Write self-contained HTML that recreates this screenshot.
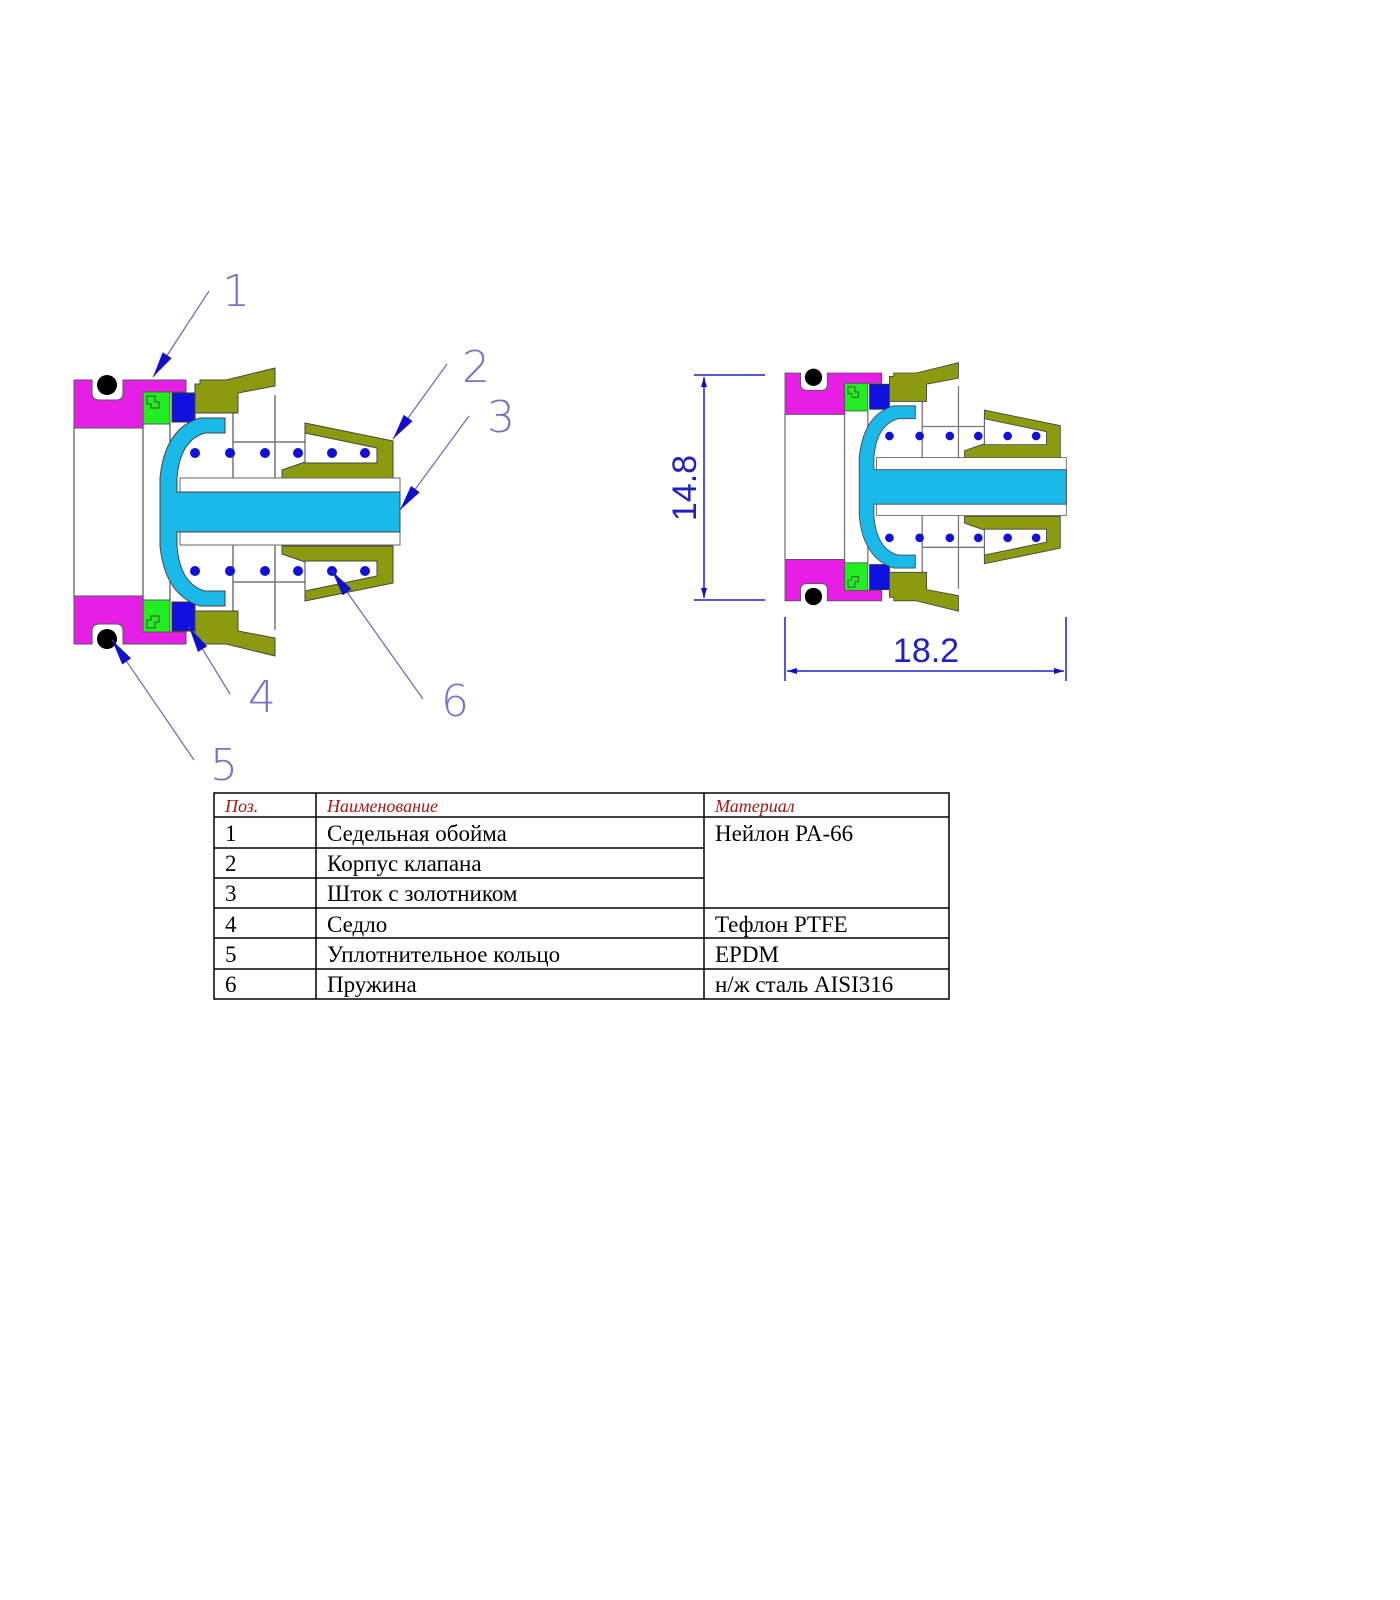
<!DOCTYPE html>
<html><head><meta charset="utf-8"><style>
html,body{margin:0;padding:0;background:#fff;width:1400px;height:1600px;overflow:hidden}
</style></head><body>
<svg width="1400" height="1600" viewBox="0 0 1400 1600" xmlns="http://www.w3.org/2000/svg">
<defs>
<g id="valve">
  <g stroke="#777" stroke-width="1.5" fill="none">
    <line x1="74" y1="428" x2="74" y2="596"/>
    <line x1="143" y1="424" x2="143" y2="600"/>
    <line x1="170" y1="424" x2="170" y2="600"/>
    <line x1="233" y1="410" x2="233" y2="614"/>
    <line x1="275" y1="395" x2="275" y2="630"/>
    <line x1="233" y1="442" x2="305" y2="442"/>
    <line x1="233" y1="582" x2="305" y2="582"/>
  </g>
  <g id="half">
    <path d="M74 380 H92 V393 Q92 400 100 400 H116 Q123 400 123 393 V380 H186 V392 H143 V428 H74 Z" fill="#e61ee6" stroke="#555" stroke-width="1"/>
    <circle cx="107" cy="385" r="10" fill="#000"/>
    <path d="M143 392 H170 V424 H143 Z" fill="#22ee22" stroke="#555" stroke-width="1"/>
    <path d="M147 396 h8 v6 h4 v6 h-8 v-4 h-4 Z" fill="none" stroke="#444" stroke-width="1"/>
    <rect x="172" y="393" width="23" height="29" fill="#1010e0" stroke="#333" stroke-width="1"/>
    <path d="M195 384 H200 V380 H226 L275 368 V386 L238 393 V413 H195 Z" fill="#8c9a10" stroke="#444" stroke-width="1"/>
    <path d="M305 423 L393 441 V478 H282 V470 L305 462 Z" fill="#8c9a10" stroke="#444" stroke-width="1"/>
    <path d="M305 433 L377 448 V463 H305 Z" fill="#fff" stroke="#444" stroke-width="1"/>
    <g fill="#1010d8">
      <circle cx="195" cy="453" r="5"/><circle cx="230" cy="453" r="5"/><circle cx="265" cy="453" r="5"/>
      <circle cx="298" cy="453" r="5"/><circle cx="332" cy="453" r="5"/><circle cx="365" cy="453" r="5"/>
    </g>
  </g>
  <use href="#half" transform="translate(0,1024) scale(1,-1)"/>
  <rect x="180" y="478" width="220" height="67" fill="#fff" stroke="#666" stroke-width="1"/>
  <path d="M225 418 V433 H205 Q180 440 177 478 V492 H400 V532 H177 V546 Q180 584 205 591 H225 V606 H200 Q165 595 160 546 V478 Q165 428 200 418 Z" fill="#19b9ea" stroke="#444" stroke-width="1"/>
</g>
<marker id="ar" viewBox="0 0 10 10" refX="10" refY="5" markerWidth="10" markerHeight="10" orient="auto-start-reverse" markerUnits="userSpaceOnUse">
  <path d="M0 2 L10 5 L0 8 Z" fill="#1010c0"/>
</marker>
<marker id="ld" viewBox="0 0 24 12" refX="24" refY="6" markerWidth="26" markerHeight="13" orient="auto" markerUnits="userSpaceOnUse">
  <path d="M0 1 L24 6 L0 11 Z" fill="#1010c8"/>
</marker>
</defs>

<use href="#valve"/>
<use href="#valve" transform="translate(785,373) scale(0.863) translate(-74,-380)"/>

<g stroke="#6a6ab0" stroke-width="1.2" fill="none">
  <line x1="209" y1="291" x2="153" y2="377" marker-end="url(#ld)"/>
  <line x1="447" y1="364" x2="393" y2="439" marker-end="url(#ld)"/>
  <line x1="469" y1="416" x2="400" y2="510" marker-end="url(#ld)"/>
  <line x1="230" y1="694" x2="189" y2="627" marker-end="url(#ld)"/>
  <line x1="194" y1="760" x2="112" y2="640" marker-end="url(#ld)"/>
  <line x1="423" y1="699" x2="332" y2="571" marker-end="url(#ld)"/>
</g>
<g font-family="DejaVu Sans, sans-serif" font-size="44" fill="#7474c4" font-weight="200">
  <text x="222" y="306">1</text>
  <text x="462" y="382">2</text>
  <text x="487" y="432">3</text>
  <text x="248" y="712">4</text>
  <text x="210" y="780">5</text>
  <text x="441" y="716">6</text>
</g>

<g stroke="#2020c0" stroke-width="1.5" fill="none">
  <line x1="694" y1="375" x2="765" y2="375"/>
  <line x1="694" y1="600" x2="765" y2="600"/>
  <line x1="704" y1="377" x2="704" y2="598" marker-start="url(#ar)" marker-end="url(#ar)"/>
  <line x1="785" y1="617" x2="785" y2="681"/>
  <line x1="1066" y1="617" x2="1066" y2="681"/>
  <line x1="787" y1="671" x2="1064" y2="671" marker-start="url(#ar)" marker-end="url(#ar)"/>
</g>
<g font-family="Liberation Sans, sans-serif" font-size="34" fill="#2020c0">
  <text x="696" y="488" transform="rotate(-90 696 488)" text-anchor="middle">14.8</text>
  <text x="926" y="662" text-anchor="middle">18.2</text>
</g>

<g stroke="#000" stroke-width="1.5" fill="none">
  <rect x="214" y="793" width="735" height="206"/>
  <line x1="316" y1="793" x2="316" y2="999"/>
  <line x1="704" y1="793" x2="704" y2="999"/>
  <line x1="214" y1="817" x2="949" y2="817"/>
  <line x1="214" y1="848" x2="704" y2="848"/>
  <line x1="214" y1="878" x2="704" y2="878"/>
  <line x1="214" y1="908" x2="949" y2="908"/>
  <line x1="214" y1="938" x2="949" y2="938"/>
  <line x1="214" y1="969" x2="949" y2="969"/>
</g>
<g font-family="Liberation Serif, serif" font-size="18" font-style="italic" fill="#a01818">
  <text x="225" y="812">Поз.</text>
  <text x="327" y="812">Наименование</text>
  <text x="715" y="812">Материал</text>
</g>
<g font-family="Liberation Serif, serif" font-size="23" fill="#000">
  <text x="225" y="841">1</text><text x="327" y="841">Седельная обойма</text><text x="715" y="841">Нейлон PA-66</text>
  <text x="225" y="871">2</text><text x="327" y="871">Корпус клапана</text>
  <text x="225" y="901">3</text><text x="327" y="901">Шток с золотником</text>
  <text x="225" y="932">4</text><text x="327" y="932">Седло</text><text x="715" y="932">Тефлон PTFE</text>
  <text x="225" y="962">5</text><text x="327" y="962">Уплотнительное кольцо</text><text x="715" y="962">EPDM</text>
  <text x="225" y="992">6</text><text x="327" y="992">Пружина</text><text x="715" y="992">н/ж сталь AISI316</text>
</g>
</svg>
</body></html>
